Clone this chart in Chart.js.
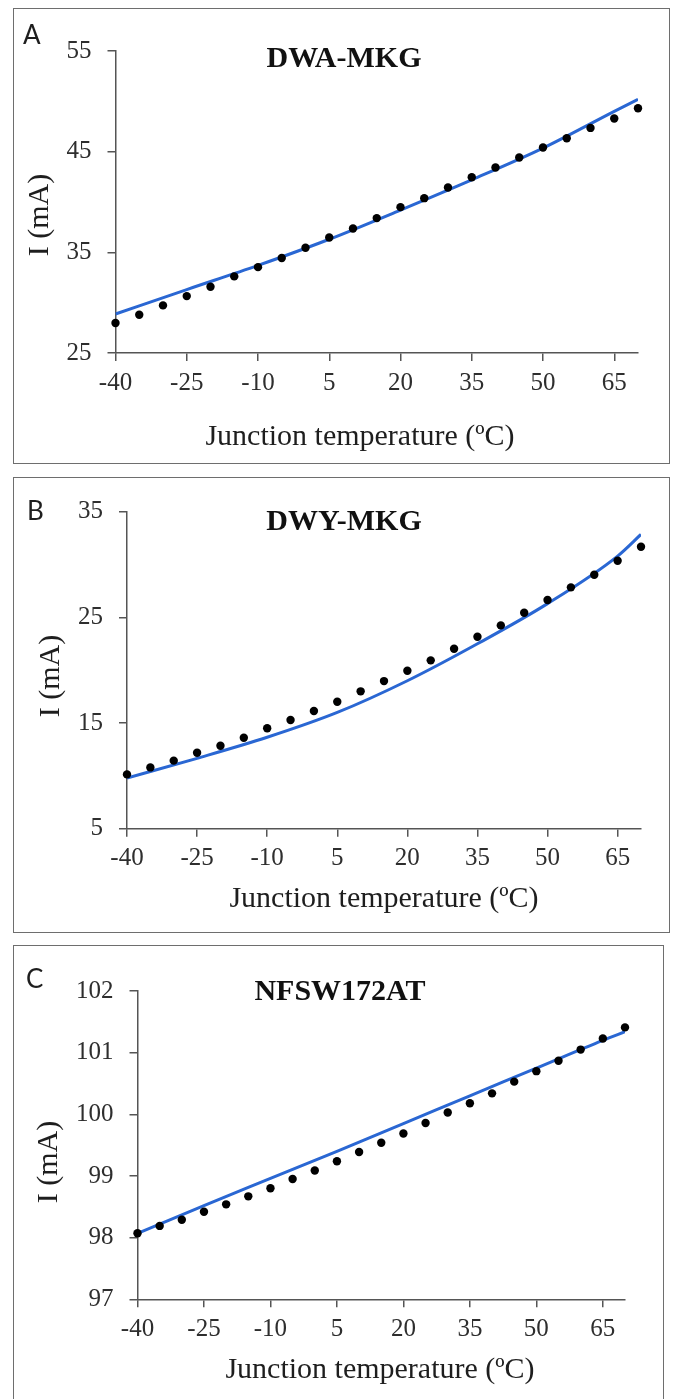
<!DOCTYPE html>
<html>
<head>
<meta charset="utf-8">
<script src="https://cdn.jsdelivr.net/npm/chart.js@4.4.1/dist/chart.umd.min.js"></script>
<style>
html,body{margin:0;padding:0;background:#fff;}
body{position:relative;width:674px;height:1399px;overflow:hidden;}
.box{position:absolute;border:1.5px solid #6e6e6e;box-sizing:border-box;}
.cw{position:absolute;}
.t{position:absolute;white-space:nowrap;line-height:1;color:#1e1e1e;font-family:"Liberation Serif","Times New Roman",serif;}
.letter{font-family:Lato,"Open Sans",sans-serif;font-size:26px;color:#1e1e1e;}
.ttl{font-weight:bold;font-size:30px;transform:translateX(-50%);color:#111;}
.xt{font-size:30px;transform:translateX(-50%);}
.yt{font-size:30px;transform:translate(-50%,-50%) rotate(-90deg);}
</style>
</head>
<body>
<canvas id="cA" class="cw" style="left:13px;top:8px;width:657px;height:456px" width="657" height="456"></canvas>
<canvas id="cB" class="cw" style="left:13px;top:477px;width:657px;height:456px" width="657" height="456"></canvas>
<canvas id="cC" class="cw" style="left:13px;top:945px;width:651px;height:455px" width="651" height="455"></canvas>
<div class="box" style="left:13px;top:8px;width:657px;height:456px"></div>
<div class="box" style="left:13px;top:477px;width:657px;height:456px"></div>
<div class="box" style="left:13px;top:945px;width:651px;height:470px"></div>

<div class="t letter" style="left:23px;top:20.9px">A</div>
<div class="t ttl" style="left:344px;top:41.9px">DWA-MKG</div>
<div class="t yt" style="left:38px;top:215px">I (mA)</div>
<div class="t xt" style="left:360px;top:420px">Junction temperature (ºC)</div>

<div class="t letter" style="left:27px;top:496.9px">B</div>
<div class="t ttl" style="left:344px;top:505px">DWY-MKG</div>
<div class="t yt" style="left:49px;top:676px">I (mA)</div>
<div class="t xt" style="left:384px;top:882px">Junction temperature (ºC)</div>

<div class="t letter" style="left:26px;top:964.9px">C</div>
<div class="t ttl" style="left:340px;top:975px">NFSW172AT</div>
<div class="t yt" style="left:47px;top:1162px">I (mA)</div>
<div class="t xt" style="left:380px;top:1353px">Junction temperature (ºC)</div>

<script>
// Measured junction temperatures (ºC)
const temps = [-40,-35,-30,-25,-20,-15,-10,-5,0,5,10,15,20,25,30,35,40,45,50,55,60,65,70];
// Temperatures where the fitted curve was read
const fitTemps = [-40,-25,-10,5,20,35,50,65,70];
// X tick labels
const xTicks = [-40,-25,-10,5,20,35,50,65];

// Panel A: DWA-MKG
const dotsA = [27.98,28.80,29.73,30.65,31.58,32.61,33.53,34.43,35.45,36.48,37.37,38.40,39.49,40.38,41.44,42.46,43.42,44.42,45.41,46.33,47.36,48.29,49.31];
const fitA  = [28.87,31.30,33.70,36.30,39.20,42.20,45.35,49.00,50.20];
const yTicksA = [25,35,45,55];

// Panel B: DWY-MKG
const dotsB = [10.14,10.80,11.44,12.19,12.85,13.61,14.50,15.28,16.14,17.02,18.00,18.97,19.95,20.93,22.03,23.17,24.24,25.44,26.64,27.84,29.04,30.36,31.69];
const fitB  = [9.80,11.66,13.65,16.00,19.00,22.50,26.30,30.80,32.85];
const yTicksB = [5,15,25,35];

// Panel C: NFSW172AT
const dotsC = [98.07,98.19,98.29,98.42,98.54,98.67,98.80,98.95,99.09,99.24,99.39,99.54,99.69,99.86,100.03,100.18,100.34,100.53,100.70,100.87,101.05,101.23,101.41];
const fitC  = [98.07,98.52,98.96,99.40,99.85,100.30,100.75,101.20,101.34];
const yTicksC = [97,98,99,100,101,102];

const AX = '#555555';
const TICKFONT = {family:'"Liberation Serif","Times New Roman",serif', size:25};

function makeChart(id, dots, fit, yTicks, lay) {
  new Chart(document.getElementById(id), {
    type: 'scatter',
    data: {
      datasets: [
        { data: temps.map((t,i)=>({x:t, y:dots[i]})), order:0, showLine:false, clip:false,
          pointRadius:4.2, pointHoverRadius:4.2, pointBackgroundColor:'#000', pointBorderColor:'#000', pointBorderWidth:0 },
        { data: fitTemps.map((t,i)=>({x:t, y:fit[i]})), order:1, showLine:true,
          pointRadius:0, pointHoverRadius:0, borderColor:'#2a67d3', borderWidth:3,
          cubicInterpolationMode:'monotone', fill:false }
      ]
    },
    options: {
      responsive:false, animation:false, devicePixelRatio:1,
      layout:{padding:{left:0, top:lay.pt, right:lay.pr, bottom:0}},
      plugins:{legend:{display:false}, tooltip:{enabled:false}, title:{display:false}},
      events: [],
      scales: {
        x: {
          type:'linear', min:-40, max:70,
          afterBuildTicks: s => { s.ticks = xTicks.map(v=>({value:v})); },
          afterFit: s => { s.height = lay.xh; },
          grid:{display:true, drawOnChartArea:false, drawTicks:true, tickLength:8, color:AX, lineWidth:1.5},
          border:{display:true, color:AX, width:1.5},
          ticks:{font:TICKFONT, color:'#2e2e2e', padding:7, maxRotation:0, minRotation:0, autoSkip:false,
                 callback: v => String(v)}
        },
        y: {
          type:'linear', min:yTicks[0], max:yTicks[yTicks.length-1],
          afterBuildTicks: s => { s.ticks = yTicks.map(v=>({value:v})); },
          afterFit: s => { s.width = lay.yw; },
          grid:{display:true, drawOnChartArea:false, drawTicks:true, tickLength:8, color:AX, lineWidth:1.5},
          border:{display:true, color:AX, width:1.5},
          ticks:{font:TICKFONT, color:'#2e2e2e', padding:16, autoSkip:false, callback: v => String(v)}
        }
      }
    }
  });
}

makeChart('cA', dotsA, fitA, yTicksA, {yw:102.5, pr:32, pt:43, xh:111});
makeChart('cB', dotsB, fitB, yTicksB, {yw:114, pr:29, pt:34.7, xh:104.3});
makeChart('cC', dotsC, fitC, yTicksC, {yw:124.5, pr:39, pt:46, xh:100.7});
</script>
</body>
</html>
